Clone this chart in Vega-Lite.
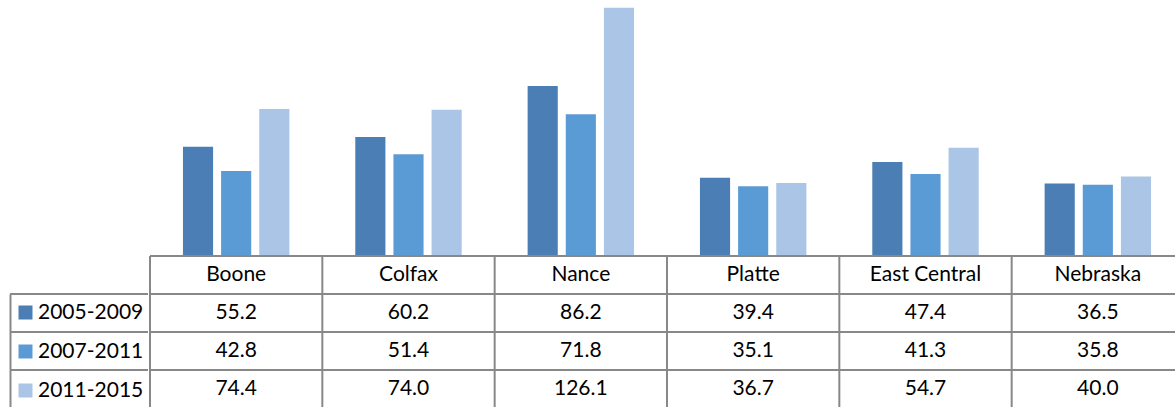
{
  "$schema": "https://vega.github.io/schema/vega-lite/v6.json",
  "background": "white",
  "padding": {"left": 9, "top": 0, "right": 0, "bottom": 0},
  "config": {
    "view": {"stroke": null},
    "text": {"font": "Lato", "fontSize": 21, "color": "#000000"},
    "rule": {"stroke": "#888888", "strokeWidth": 2}
  },
  "datasets": {
    "rates": [
      {"area": "Boone", "period": "2005-2009", "value": 55.2},
      {"area": "Boone", "period": "2007-2011", "value": 42.8},
      {"area": "Boone", "period": "2011-2015", "value": 74.4},
      {"area": "Colfax", "period": "2005-2009", "value": 60.2},
      {"area": "Colfax", "period": "2007-2011", "value": 51.4},
      {"area": "Colfax", "period": "2011-2015", "value": 74.0},
      {"area": "Nance", "period": "2005-2009", "value": 86.2},
      {"area": "Nance", "period": "2007-2011", "value": 71.8},
      {"area": "Nance", "period": "2011-2015", "value": 126.1},
      {"area": "Platte", "period": "2005-2009", "value": 39.4},
      {"area": "Platte", "period": "2007-2011", "value": 35.1},
      {"area": "Platte", "period": "2011-2015", "value": 36.7},
      {"area": "East Central", "period": "2005-2009", "value": 47.4},
      {"area": "East Central", "period": "2007-2011", "value": 41.3},
      {"area": "East Central", "period": "2011-2015", "value": 54.7},
      {"area": "Nebraska", "period": "2005-2009", "value": 36.5},
      {"area": "Nebraska", "period": "2007-2011", "value": 35.8},
      {"area": "Nebraska", "period": "2011-2015", "value": 40.0}
    ],
    "areas": [
      {"area": "Boone"}, {"area": "Colfax"}, {"area": "Nance"},
      {"area": "Platte"}, {"area": "East Central"}, {"area": "Nebraska"}
    ],
    "rows": [
      {"row": "Header"}, {"row": "2005-2009"}, {"row": "2007-2011"}, {"row": "2011-2015"}
    ],
    "periods": [
      {"period": "2005-2009"}, {"period": "2007-2011"}, {"period": "2011-2015"}
    ]
  },
  "spacing": 0,
  "resolve": {"scale": {"color": "independent"}, "legend": {"color": "independent"}},
  "hconcat": [
    {
      "spacing": 0,
      "resolve": {"scale": {"color": "independent"}, "legend": {"color": "independent"}},
      "vconcat": [
        {
          "width": 138,
          "height": 293,
          "data": {"values": []},
          "mark": "point",
          "encoding": {}
        },
        {
          "width": 138,
          "height": 114,
          "layer": [
            {
              "data": {"name": "periods"},
              "mark": "rule",
              "encoding": {
                "y": {
                  "field": "period", "type": "nominal", "bandPosition": 0,
                  "scale": {"type": "band", "domain": ["2005-2009", "2007-2011", "2011-2015"], "paddingInner": 0, "paddingOuter": 0},
                  "axis": {"title": null, "labels": false, "ticks": false, "grid": false, "domain": true, "domainColor": "#888888", "domainWidth": 2}
                }
              }
            },
            {
              "data": {"name": "periods"},
              "mark": {"type": "square", "opacity": 0},
              "encoding": {
                "y": {"field": "period", "type": "nominal"},
                "fill": {
                  "field": "period", "type": "nominal",
                  "scale": {"domain": ["2005-2009", "2007-2011", "2011-2015"], "range": ["#4A7EB4", "#5B9BD5", "#ABC5E6"]},
                  "legend": {
                    "title": null, "orient": "none", "legendX": 5, "legendY": 302,
                    "direction": "vertical", "padding": 0, "offset": 0,
                    "symbolType": "square", "symbolSize": 196, "symbolOpacity": 1, "symbolStrokeWidth": 0,
                    "labelFont": "Lato", "labelFontSize": 21, "labelColor": "#000000",
                    "labelOffset": 2, "rowPadding": 17
                  }
                }
              }
            }
          ]
        }
      ]
    },
    {
      "spacing": 0,
      "resolve": {"scale": {"color": "independent"}, "legend": {"color": "independent"}},
      "vconcat": [
        {
          "width": 1027,
          "height": 255,
          "data": {"name": "rates"},
          "mark": "bar",
          "encoding": {
            "x": {
              "field": "area", "type": "nominal", "axis": null,
              "scale": {"domain": ["Boone", "Colfax", "Nance", "Platte", "East Central", "Nebraska"], "range": [0, 1034], "paddingInner": 0, "paddingOuter": 0}
            },
            "xOffset": {
              "field": "period", "type": "nominal",
              "scale": {"domain": ["2005-2009", "2007-2011", "2011-2015"], "paddingInner": 0.21, "paddingOuter": 0.864}
            },
            "y": {"field": "value", "type": "quantitative", "axis": null, "scale": {"domain": [0, 130], "nice": false}},
            "color": {
              "field": "period", "type": "nominal", "legend": null,
              "scale": {"domain": ["2005-2009", "2007-2011", "2011-2015"], "range": ["#4A7EB4", "#5B9BD5", "#ABC5E6"]}
            }
          }
        },
        {
          "width": 1027,
          "height": 152,
          "encoding": {
            "x": {
              "field": "area", "type": "nominal", "axis": null,
              "scale": {"type": "band", "domain": ["Boone", "Colfax", "Nance", "Platte", "East Central", "Nebraska"], "range": [0, 1034], "paddingInner": 0, "paddingOuter": 0}
            }
          },
          "layer": [
            {
              "data": {"name": "rows"},
              "mark": "rule",
              "encoding": {
                "x": null,
                "y": {
                  "field": "row", "type": "nominal", "bandPosition": 0, "axis": null,
                  "scale": {"type": "band", "domain": ["Header", "2005-2009", "2007-2011", "2011-2015"], "paddingInner": 0, "paddingOuter": 0}
                }
              }
            },
            {
              "data": {"name": "areas"},
              "mark": "rule",
              "encoding": {
                "x": {"field": "area", "type": "nominal", "bandPosition": 0}
              }
            },
            {
              "data": {"name": "areas"},
              "mark": {"type": "text", "baseline": "middle", "align": "center"},
              "encoding": {
                "y": {"datum": "Header", "type": "nominal"},
                "text": {"field": "area", "type": "nominal"}
              }
            },
            {
              "data": {"name": "rates"},
              "mark": {"type": "text", "baseline": "middle", "align": "center"},
              "encoding": {
                "y": {"field": "period", "type": "nominal"},
                "text": {"field": "value", "type": "quantitative", "format": ".1f"}
              }
            }
          ]
        }
      ]
    }
  ]
}
